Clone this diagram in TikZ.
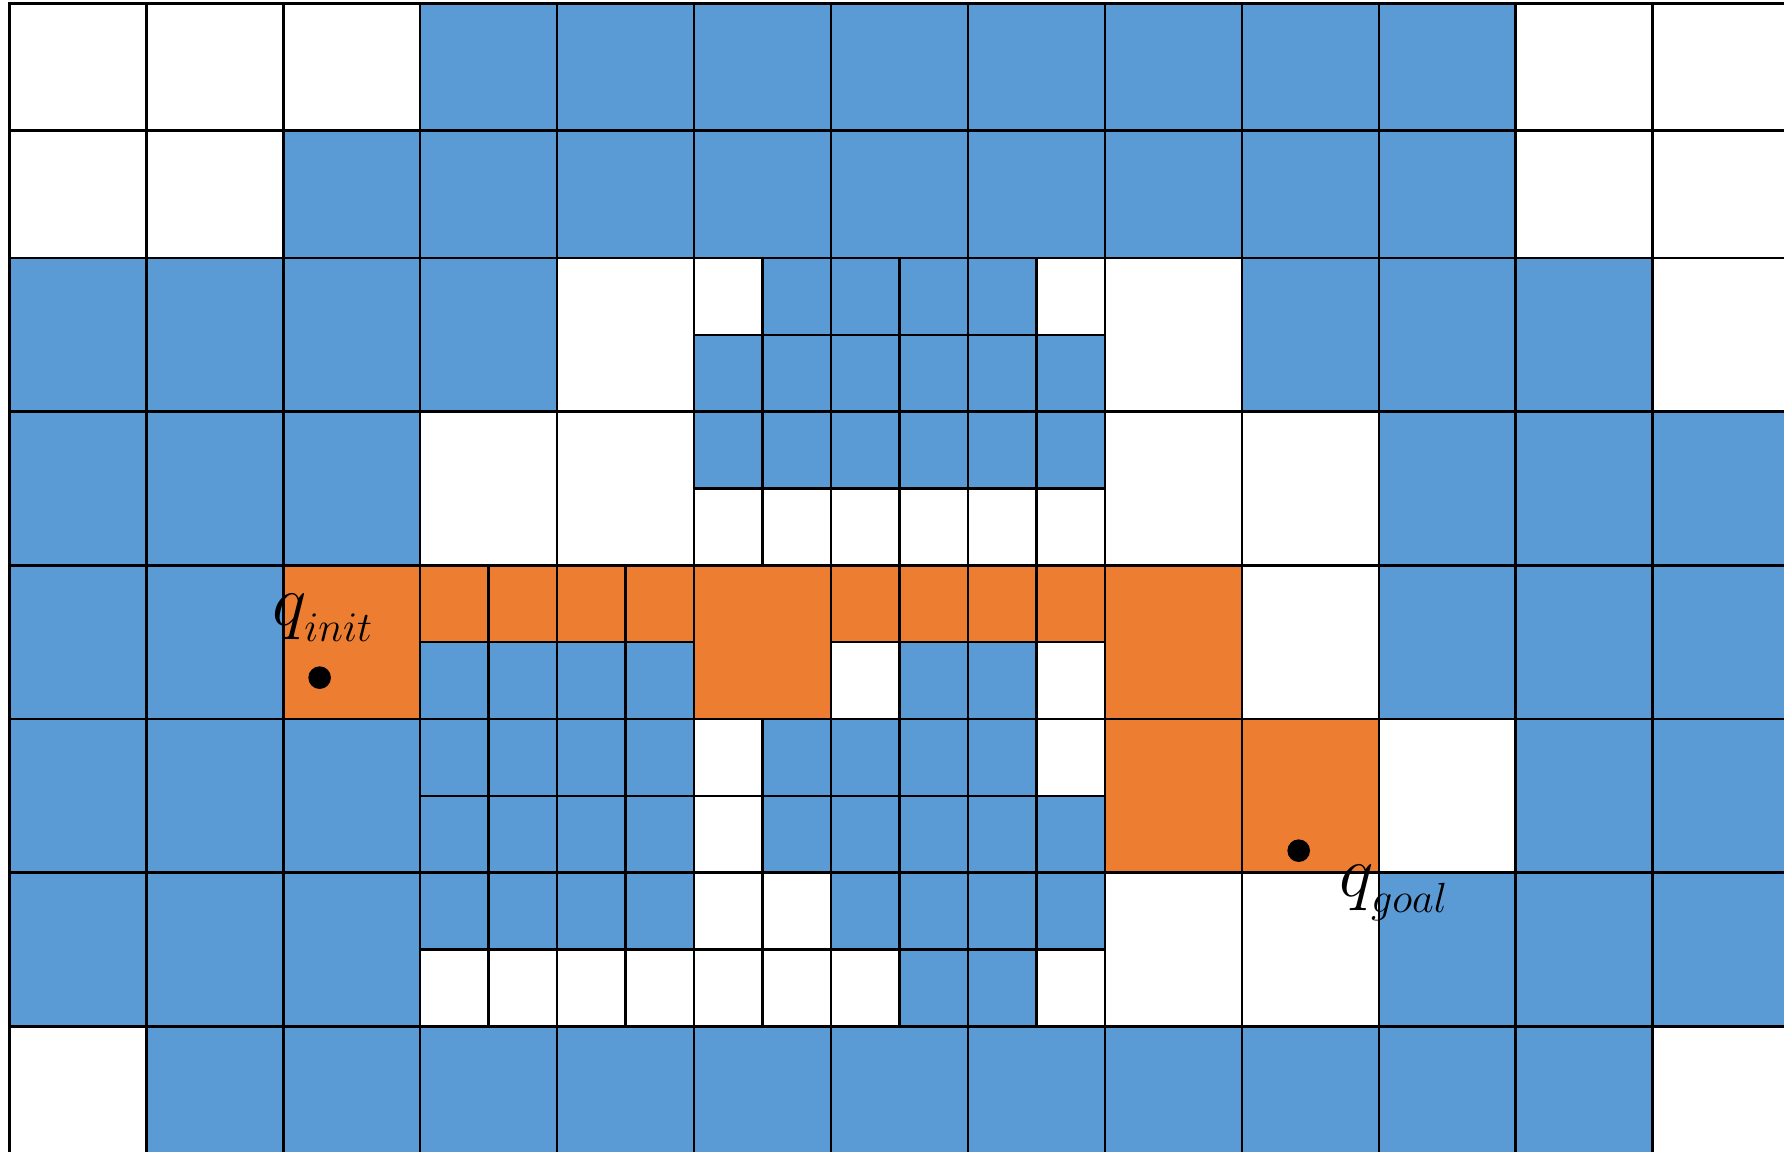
\documentclass[tikz,border=0pt]{standalone}
\usepackage{xcolor}
\usepackage{tikz}
\usetikzlibrary{positioning}

\definecolor{obsblue}{RGB}{91,155,213}
\definecolor{pathorange}{RGB}{237,125,49}
\DeclareMathSizes{20}{20}{12}{9}

\tikzset{
  gridline/.style={line width=0.75pt, line cap=rect},
  obst/.style={fill=obsblue},
  route/.style={fill=pathorange},
  qdot/.style={circle, fill=black, inner sep=0pt, minimum size=0.226cm},
  qlabel/.style={anchor=base west, inner sep=0pt, font=\fontsize{20}{24}\selectfont}
}

\begin{document}
\begin{tikzpicture}
  \useasboundingbox (0,0) rectangle (17.84,-11.51);
  \clip (0,0) rectangle (17.84,-11.51);

  % upper band, two short rows
  \begin{scope}[shift={(0.093,-0.033)}, x=1.3695cm, y=-1.2735cm]
    \fill[obst] (3,0) rectangle (11,1);
    \fill[obst] (2,1) rectangle (11,2);

    % grid lines
    \foreach \i in {0,...,13}{
      \draw[gridline] (\i,0) -- (\i,2);
    }
    \foreach \j in {0,1,2}{
      \draw[gridline] (0,\j) -- (13,\j);
    }
  \end{scope}

  % lower band, some cells split in four
  \begin{scope}[shift={(0.093,-2.580)}, x=1.3695cm, y=-1.5366cm]
    % obstacle cells
    \fill[obst] (0,0) rectangle (4,1);
    \fill[obst] (5.5,0) rectangle (7.5,0.5);
    \fill[obst] (5,0.5) rectangle (8,1);
    \fill[obst] (9,0) rectangle (12,1);
    \fill[obst] (0,1) rectangle (3,2);
    \fill[obst] (5,1) rectangle (8,1.5);
    \fill[obst] (10,1) rectangle (13,2);
    \fill[obst] (0,2) rectangle (2,3);
    \fill[obst] (3,2.5) rectangle (5,3);
    \fill[obst] (6.5,2.5) rectangle (7.5,3);
    \fill[obst] (10,2) rectangle (13,3);
    \fill[obst] (0,3) rectangle (5,4);
    \fill[obst] (5.5,3) rectangle (7.5,3.5);
    \fill[obst] (5.5,3.5) rectangle (8,4);
    \fill[obst] (11,3) rectangle (13,4);
    \fill[obst] (0,4) rectangle (3,5);
    \fill[obst] (3,4) rectangle (5,4.5);
    \fill[obst] (6,4) rectangle (8,4.5);
    \fill[obst] (6.5,4.5) rectangle (7.5,5);
    \fill[obst] (10,4) rectangle (13,5);
    \fill[obst] (1,5) rectangle (12,6);

    % path cells
    \fill[route] (2,2) rectangle (3,3);
    \fill[route] (3,2) rectangle (8,2.5);
    \fill[route] (5,2.5) rectangle (6,3);
    \fill[route] (8,2) rectangle (9,4);
    \fill[route] (9,3) rectangle (10,4);

    % grid lines
    \foreach \i in {0,...,13}{
      \draw[gridline] (\i,0) -- (\i,6);
    }
    \foreach \j in {0,...,6}{
      \draw[gridline] (0,\j) -- (13,\j);
    }

    % split cells
    \foreach \a/\b/\rw in {5/8/0, 5/8/1, 3/5/2, 6/8/2, 3/5/3, 5/8/3, 3/5/4, 5/8/4}{
      \draw[gridline] (\a,\rw+0.5) -- (\b,\rw+0.5);
      \pgfmathtruncatemacro{\e}{\b-1}
      \foreach \x in {\a,...,\e}{
        \draw[gridline] (\x+0.5,\rw) -- (\x+0.5,\rw+1);
      }
    }

    % start and goal
    \node[qdot] (qinit) at (2.266,2.731) {};
    \node[qdot] (qgoal) at (9.415,3.857) {};
    \node[qlabel] (qinitlabel) at (1.918,2.393) {$q_{\lower1.5pt\hbox{$\scriptstyle init$}}$};
    \node[qlabel] (qgoallabel) at (9.707,4.157) {$q_{\lower1.5pt\hbox{$\scriptstyle goal$}}$};
  \end{scope}
\end{tikzpicture}
\end{document}
